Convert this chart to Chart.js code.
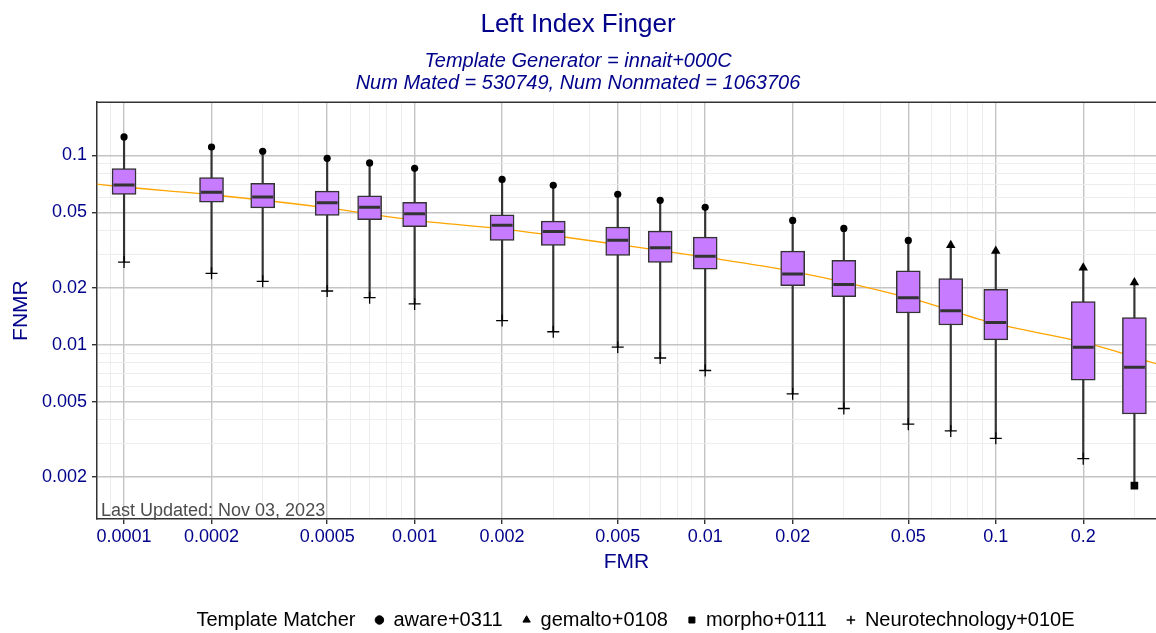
<!DOCTYPE html>
<html>
<head>
<meta charset="utf-8">
<script src="https://cdn.jsdelivr.net/npm/chart.js@4.4.0/dist/chart.umd.min.js"></script>
<style>
  html, body { margin: 0; padding: 0; background: #fff; }
</style>
</head>
<body>
<canvas id="chart" width="1156" height="633"></canvas>
<script>
// FMR thresholds, one box per threshold
var fmr = [0.0001, 0.0002, 0.0003, 0.0005, 0.0007, 0.001, 0.002, 0.003, 0.005, 0.007,
           0.01, 0.02, 0.03, 0.05, 0.07, 0.1, 0.2, 0.3];
var upper  = [0.125, 0.1106, 0.105, 0.0964, 0.0911, 0.0853, 0.0746, 0.0694, 0.0622, 0.0578,
              0.0531, 0.0453, 0.0411, 0.0355, 0.0335, 0.0312, 0.0255, 0.0213];
var q3     = [0.0850, 0.0762, 0.0711, 0.0647, 0.0610, 0.0564, 0.0485, 0.0449, 0.0418, 0.0398,
              0.0370, 0.0312, 0.0279, 0.0245, 0.0223, 0.0196, 0.0169, 0.0139];
var median = [0.0697, 0.0637, 0.0602, 0.0562, 0.0531, 0.0491, 0.0427, 0.0396, 0.0356, 0.0325,
              0.0293, 0.0236, 0.0208, 0.0177, 0.0151, 0.0131, 0.0097, 0.0076];
var q1     = [0.0622, 0.0566, 0.0528, 0.0482, 0.0457, 0.0420, 0.0355, 0.0334, 0.0296, 0.0272,
              0.0250, 0.0205, 0.0179, 0.0147, 0.0127, 0.0106, 0.0065, 0.0043];
var lower  = [0.0273, 0.0238, 0.0216, 0.0192, 0.0177, 0.0164, 0.0134, 0.0117, 0.0097, 0.0085,
              0.0073, 0.0055, 0.0046, 0.0038, 0.0035, 0.0032, 0.0025, 0.0018];
// which matcher sits at the end of each whisker
var upperMatcher = ['aware', 'aware', 'aware', 'aware', 'aware', 'aware', 'aware', 'aware', 'aware',
                    'aware', 'aware', 'aware', 'aware', 'aware', 'gemalto', 'gemalto', 'gemalto', 'gemalto'];
var lowerMatcher = ['neuro', 'neuro', 'neuro', 'neuro', 'neuro', 'neuro', 'neuro', 'neuro', 'neuro',
                    'neuro', 'neuro', 'neuro', 'neuro', 'neuro', 'neuro', 'neuro', 'neuro', 'morpho'];

// smooth orange reference curve
var curveFmr  = [0.00008, 0.0001, 0.0002, 0.0005, 0.001, 0.002, 0.003, 0.005, 0.01, 0.02, 0.05, 0.1, 0.2, 0.36];
var curveFnmr = [0.0705, 0.0680, 0.0619, 0.0528, 0.0453, 0.0409, 0.0377, 0.0338, 0.0290, 0.0244, 0.0177, 0.0129, 0.0103, 0.0079];

var matchers = [
  { key: 'aware',   label: 'aware+0311',           style: 'circle' },
  { key: 'gemalto', label: 'gemalto+0108',         style: 'triangle' },
  { key: 'morpho',  label: 'morpho+0111',          style: 'rect' },
  { key: 'neuro',   label: 'Neurotechnology+010E', style: 'cross' }
];

var FONT = "'Liberation Sans', Arial, Helvetica, sans-serif";
var BLUE = '#00008B';
Chart.defaults.font.family = FONT;
Chart.defaults.color = BLUE;

function logTicks(min, max) {
  var out = [];
  for (var e = -5; e <= 0; e++) {
    for (var k = 1; k <= 9; k++) {
      var v = Number((k * Math.pow(10, e)).toPrecision(1));
      if (v >= min && v <= max) out.push({ value: v });
    }
  }
  return out;
}
function isMajor(v) {
  var m = Number(Number(v).toExponential().split('e')[0]);
  return m === 1 || m === 2 || m === 5;
}
function gridOpts() {
  return {
    offset: false,
    color: function(c) { return c.tick && isMajor(c.tick.value) ? '#c4c4c4' : '#ebebeb'; },
    lineWidth: function(c) { return c.tick && isMajor(c.tick.value) ? 1.4 : 0.9; },
    tickColor: function(c) { return c.tick && isMajor(c.tick.value) ? '#333333' : 'rgba(0,0,0,0)'; },
    tickLength: 5,
    tickWidth: 1.4
  };
}

function markerData(names, values, key) {
  var pts = [];
  for (var i = 0; i < fmr.length; i++) {
    if (names[i] === key) pts.push({ x: fmr[i], y: values[i] });
  }
  return pts;
}

var markerSize = { circle: 3.6, triangle: 5.5, rect: 5.4, cross: 6 };
var datasets = [
  {
    type: 'line',
    label: 'curve',
    data: curveFmr.map(function(x, i) { return { x: x, y: curveFnmr[i] }; }),
    borderColor: '#FFA500',
    borderWidth: 1.3,
    pointRadius: 0,
    cubicInterpolationMode: 'monotone',
    order: 6
  },
  {
    type: 'bar',
    label: 'whisker',
    data: fmr.map(function(x, i) { return { x: x, y: [lower[i], upper[i]] }; }),
    backgroundColor: '#333333',
    borderWidth: 0,
    grouped: false,
    barThickness: 1.5,
    order: 5
  },
  {
    type: 'bar',
    label: 'box',
    data: fmr.map(function(x, i) { return { x: x, y: [q1[i], q3[i]] }; }),
    backgroundColor: '#C77CFF',
    borderColor: '#333333',
    borderWidth: 1.5,
    borderSkipped: false,
    grouped: false,
    barThickness: 24,
    order: 4
  },
  {
    type: 'scatter',
    label: 'median',
    data: fmr.map(function(x, i) { return { x: x, y: median[i] }; }),
    pointStyle: 'line',
    pointRadius: 10.5,
    borderColor: '#333333',
    borderWidth: 3,
    order: 3
  }
];
matchers.forEach(function(m) {
  var pts = markerData(upperMatcher, upper, m.key).concat(markerData(lowerMatcher, lower, m.key));
  datasets.push({
    type: 'scatter',
    label: m.label,
    data: pts,
    pointStyle: m.style,
    pointRadius: markerSize[m.style],
    backgroundColor: '#000',
    borderColor: '#000',
    borderWidth: m.style === 'cross' ? 1.3 : 0,
    order: 1
  });
});

var panelExtras = {
  id: 'panelExtras',
  afterDatasetsDraw: function(chart) {
    var ctx = chart.ctx, a = chart.chartArea;
    ctx.save();
    ctx.strokeStyle = '#333333';
    ctx.lineWidth = 1.5;
    ctx.beginPath();
    ctx.moveTo(a.left, a.top);
    ctx.lineTo(a.right, a.top);
    ctx.stroke();
    ctx.fillStyle = '#4d4d4d';
    ctx.font = '18px ' + FONT;
    ctx.textAlign = 'left';
    ctx.textBaseline = 'alphabetic';
    ctx.fillText('Last Updated: Nov 03, 2023', a.left + 4, a.bottom - 3);
    ctx.restore();
  }
};

new Chart(document.getElementById('chart'), {
  type: 'scatter',
  data: { datasets: datasets },
  plugins: [panelExtras],
  options: {
    responsive: false,
    animation: false,
    events: [],
    layout: { autoPadding: false, padding: { left: 0, right: 0, top: 0, bottom: -7 } },
    plugins: {
      title: {
        display: true,
        text: 'Left Index Finger',
        color: BLUE,
        font: { size: 26, weight: 'normal', lineHeight: 1.2 },
        padding: { top: 9, bottom: 4 }
      },
      subtitle: {
        display: true,
        text: ['Template Generator = innait+000C', 'Num Mated = 530749, Num Nonmated = 1063706'],
        color: BLUE,
        font: { size: 20, style: 'italic', lineHeight: 1.1 },
        padding: { top: 6, bottom: 8 }
      },
      legend: {
        position: 'bottom',
        fullSize: false,
        onClick: function() {},
        labels: {
          usePointStyle: true,
          boxWidth: 8,
          boxHeight: 6,
          padding: 20,
          color: '#000',
          font: { size: 20 },
          generateLabels: function() {
            var items = [{
              text: 'Template Matcher', fillStyle: 'rgba(0,0,0,0)', strokeStyle: 'rgba(0,0,0,0)',
              lineWidth: 0, pointStyle: 'circle', fontColor: '#000'
            }];
            matchers.forEach(function(m) {
              items.push({
                text: m.label, fillStyle: '#000', strokeStyle: '#000',
                lineWidth: m.style === 'cross' ? 1.5 : 1, pointStyle: m.style, fontColor: '#000'
              });
            });
            return items;
          }
        }
      },
      tooltip: { enabled: false }
    },
    scales: {
      x: {
        type: 'logarithmic',
        min: 0.0000807,
        max: 0.356,
        offset: false,
        afterBuildTicks: function(s) { s.ticks = logTicks(s.min, s.max); },
        afterFit: function(s) { s.height = 71; s.paddingLeft = 0; s.paddingRight = 0; },
        grid: gridOpts(),
        border: { display: true, color: '#333333', width: 1.5 },
        ticks: {
          autoSkip: false,
          maxRotation: 0,
          padding: 2,
          color: BLUE,
          font: { size: 18 },
          callback: function(v) { return isMajor(v) ? String(Number(Number(v).toPrecision(1))) : ''; }
        },
        title: {
          display: true,
          text: 'FMR',
          color: BLUE,
          font: { size: 21 },
          padding: { top: 0, bottom: 15 }
        }
      },
      y: {
        type: 'logarithmic',
        min: 0.0012,
        max: 0.1907,
        afterBuildTicks: function(s) { s.ticks = logTicks(s.min, s.max); },
        afterFit: function(s) { s.width = 97; s.paddingTop = 0; s.paddingBottom = 0; },
        grid: gridOpts(),
        border: { display: true, color: '#333333', width: 1.5 },
        ticks: {
          autoSkip: false,
          padding: 5,
          color: BLUE,
          font: { size: 18 },
          callback: function(v) { return isMajor(v) ? String(Number(Number(v).toPrecision(1))) : ''; }
        },
        title: {
          display: true,
          text: 'FNMR',
          color: BLUE,
          font: { size: 21 },
          padding: { top: 9, bottom: 0 }
        }
      }
    }
  }
});
</script>
</body>
</html>
